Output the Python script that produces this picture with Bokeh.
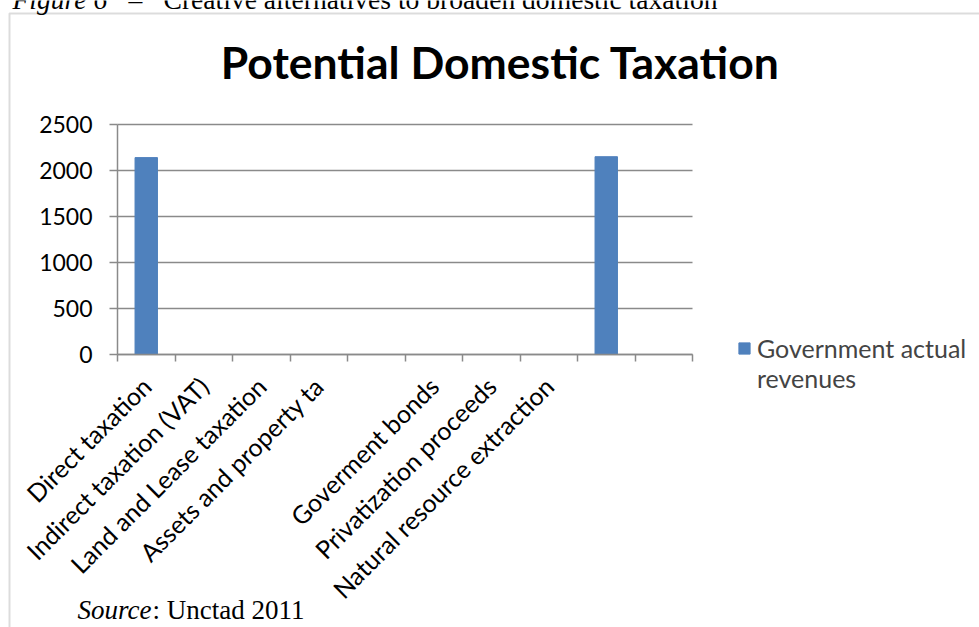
import math
from bokeh.plotting import figure
from bokeh.models import (Range1d, FixedTicker, Label, Legend, LegendItem,
                          BoxAnnotation, ColumnDataSource, LinearAxis)
from bokeh.embed import file_html
from bokeh.resources import INLINE

# ---- data ----
categories = ["Direct taxation", "Indirect taxation (VAT)", "Land and Lease taxation",
              "Assets and property ta", "", "Goverment bonds", "Privatization proceeds",
              "Natural resource extraction", "", ""]
revenues = [2140, 0, 0, 0, 0, 0, 0, 0, 2150, 0]
y_ticks = [0, 500, 1000, 1500, 2000, 2500]
y_max = 2500
series_name = "Government actual revenues"
chart_title = "Potential Domestic Taxation"
caption_fig = "Figure 6"
caption_text = "Creative alternatives to broaden domestic taxation"
source_label = "Source"
source_text = ": Unctad 2011"

# ---- layout geometry (canvas px) ----
W, H = 979, 627
FL, FR, FT, FB = 117, 692, 124, 354   # plot area edges
n = len(categories)
px_x = (FR - FL) / n
px_y = (FB - FT) / y_max

centers = [i + 0.5 for i in range(n)]
bounds = [i for i in range(n + 1)]

p = figure(width=W, height=H, output_backend="svg", toolbar_location=None,
           x_range=Range1d(-FL / px_x, n + (W - FR) / px_x),
           y_range=Range1d(-(H - FB) / px_y, y_max + FT / px_y),
           min_border=0, min_border_left=0, min_border_right=0,
           min_border_top=0, min_border_bottom=0,
           title=None, x_axis_location=None, y_axis_location=None)
p.outline_line_color = None
p.background_fill_color = "white"
p.border_fill_color = "white"
p.xgrid.visible = False
p.ygrid.visible = False

bar_color = "#4f81bd"
grey = "#8a8a8a"
SANS = "Lato"
SERIF = "Liberation Serif"

# horizontal gridlines at the y ticks, spanning the category range
p.segment(x0=[0] * len(y_ticks), x1=[n] * len(y_ticks), y0=y_ticks, y1=y_ticks,
          line_color=grey, line_width=1.5)

src = ColumnDataSource(dict(x=centers, top=revenues, cat=categories))
r = p.vbar(x="x", top="top", width=0.39, bottom=0, source=src,
           fill_color=bar_color, line_color=bar_color)

# y axis fixed at x = 0
ya = LinearAxis(fixed_location=0, bounds=(0, y_max))
ya.ticker = FixedTicker(ticks=y_ticks)
ya.major_tick_out = 8
ya.major_tick_in = 0
ya.minor_tick_out = 0
ya.minor_tick_in = 0
ya.axis_line_color = grey
ya.axis_line_width = 1.5
ya.major_tick_line_color = grey
ya.major_tick_line_width = 1.5
ya.major_label_text_font = SANS
ya.major_label_text_font_size = "23px"
ya.major_label_text_color = "black"
ya.major_label_standoff = 17
p.add_layout(ya, "left")

# x axis fixed at y = 0
xa = LinearAxis(fixed_location=0, bounds=(0, n))
xa.ticker = FixedTicker(ticks=centers, minor_ticks=bounds)
xa.major_label_overrides = {c: lab for c, lab in zip(centers, categories)}
xa.major_tick_out = 0
xa.major_tick_in = 0
xa.minor_tick_out = 7
xa.minor_tick_in = 0
xa.minor_tick_line_color = grey
xa.minor_tick_line_width = 1.5
xa.axis_line_color = grey
xa.axis_line_width = 1.5
xa.major_label_orientation = math.pi / 4
xa.major_label_text_font = SANS
xa.major_label_text_font_size = "25px"
xa.major_label_text_color = "black"
xa.major_label_standoff = 20
p.add_layout(xa, "below")


def lab(x, y, text, font, size, style="normal", align="left"):
    p.add_layout(Label(x=x, y=H - y, x_units="screen", y_units="screen",
                       text=text, text_align=align, text_baseline="alphabetic",
                       text_font=font, text_font_style=style, text_font_size=size,
                       text_color="black"))


# outer box
p.add_layout(BoxAnnotation(left=9, right=W + 50, top=H - 13, bottom=-50,
                           left_units="screen", right_units="screen",
                           top_units="screen", bottom_units="screen",
                           fill_alpha=0, line_color=grey, line_width=2))

# title
lab(500, 61, chart_title, SANS, "44.5px", style="bold", align="center")

# caption above (cut by the page top)
lab(12, -1, caption_fig, SERIF, "27.6px", style="italic")
lab(128, -1, "\u2013", SERIF, "27.6px")
lab(163, -1, caption_text, SERIF, "27.6px")

# source
lab(77, 609, source_label, SERIF, "27px", style="italic")
lab(152, 609, source_text, SERIF, "27px")

# legend (leading empty line keeps the swatch level with the first text line)
legend = Legend(items=[LegendItem(label="\nGovernment actual\nrevenues", renderers=[r])],
                location=(737, H - 393), orientation="vertical",
                glyph_width=14, glyph_height=14, label_standoff=6,
                padding=0, margin=0, spacing=0,
                label_text_font=SANS, label_text_font_size="25px",
                label_text_line_height=1.4,
                border_line_alpha=0, background_fill_alpha=0)
p.add_layout(legend, "center")

open("out.html", "w").write(file_html(p, INLINE))
